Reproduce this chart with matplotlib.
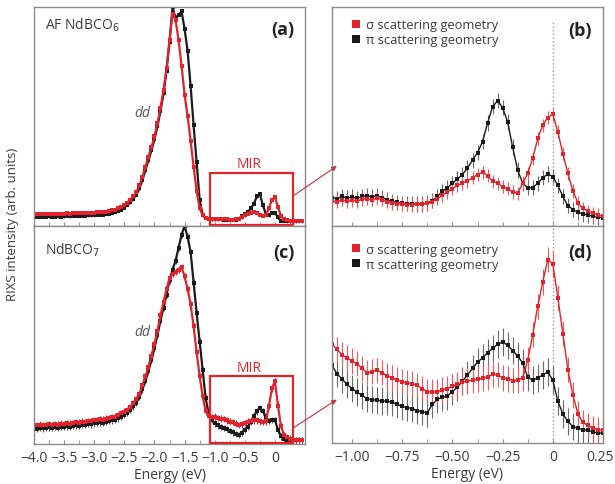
import numpy as np
import matplotlib.pyplot as plt
import matplotlib.transforms as mtransforms
from matplotlib.patches import Rectangle, ConnectionPatch
from matplotlib.lines import Line2D
from matplotlib.ticker import MultipleLocator

plt.rcParams['font.family'] = ['Open Sans', 'DejaVu Sans']

# ---- wide spectra (a), (c): energy -4.0 .. 0.45 eV, step 0.05 ----
energy_wide = np.round(np.linspace(-4.0, 0.45, 90), 3)

a_sigma = [5.6, 5.4, 5.5, 5.5, 5.4, 5.6, 5.5, 5.5, 5.6, 5.5,
           5.6, 5.7, 5.6, 5.7, 5.8, 5.7, 5.9, 5.9, 6.0, 6.0,
           6.1, 6.2, 6.3, 6.4, 6.6, 6.8, 7.1, 7.5, 8.0, 8.7,
           9.6, 10.7, 12.0, 13.6, 15.5, 18.5, 22.5, 27.0, 31.5, 36.0,
           41.0, 47.0, 54.0, 62.0, 72.0, 85.0, 97.0, 94.0, 85.0, 73.0,
           60.0, 50.0, 39.0, 27.0, 16.0, 8.0, 4.8, 3.6, 3.2, 3.1,
           3.1, 3.0, 3.1, 3.0, 3.0, 2.9, 2.9, 3.0, 3.3, 4.0,
           4.8, 5.4, 6.0, 6.6, 5.8, 5.2, 4.5, 5.2, 8.0, 12.0,
           13.2, 8.7, 4.5, 3.0, 2.6, 2.4, 2.3, 2.3, 2.3, 2.3]
a_pi = [4.4, 4.2, 4.3, 4.3, 4.2, 4.4, 4.3, 4.3, 4.4, 4.3,
        4.4, 4.5, 4.4, 4.5, 4.6, 4.5, 4.7, 4.7, 4.8, 4.8,
        4.9, 5.0, 5.1, 5.2, 5.4, 5.6, 5.9, 6.3, 6.8, 7.5,
        8.4, 9.5, 10.8, 12.4, 14.3, 17.2, 21.0, 25.5, 30.0, 34.5,
        39.5, 45.5, 52.5, 60.5, 71.0, 84.0, 100.0, 95.0, 96.5, 98.0,
        90.0, 80.0, 64.0, 46.0, 29.0, 12.0, 5.2, 3.6, 3.2, 3.1,
        3.0, 3.0, 3.0, 2.9, 2.9, 2.9, 2.8, 2.9, 3.4, 4.5,
        5.4, 6.4, 8.0, 10.1, 13.5, 14.6, 9.5, 5.4, 4.9, 6.0,
        6.1, 3.9, 2.5, 2.2, 2.1, 2.1, 2.1, 2.1, 2.1, 2.1]

c_sigma = [8.8, 8.5, 8.9, 8.6, 8.8, 9.0, 8.7, 9.1, 8.9, 9.3,
           9.2, 9.5, 9.3, 9.7, 9.9, 9.8, 10.2, 10.1, 10.5, 10.4,
           10.8, 11.0, 11.3, 11.2, 11.6, 11.9, 12.2, 12.6, 13.2, 14.0,
           14.8, 15.5, 17.0, 18.6, 20.5, 23.0, 27.0, 31.0, 35.5, 40.5,
           46.0, 52.0, 59.0, 65.0, 71.0, 76.0, 78.0, 79.0, 80.0, 81.0,
           77.0, 71.0, 64.0, 54.0, 42.0, 31.0, 22.0, 15.0, 13.0, 12.2,
           12.5, 12.0, 11.6, 11.4, 10.8, 10.3, 10.0, 9.3, 8.7, 9.0,
           9.6, 10.2, 10.5, 10.8, 10.8, 10.4, 10.0, 10.4, 17.4, 25.5,
           28.8, 17.6, 8.3, 4.1, 3.0, 2.4, 1.9, 1.8, 1.8, 1.8]
c_pi = [7.4, 7.1, 7.5, 7.2, 7.4, 7.6, 7.3, 7.7, 7.5, 7.9,
        7.8, 8.1, 7.9, 8.3, 8.5, 8.4, 8.8, 8.7, 9.1, 9.0,
        9.4, 9.6, 9.9, 9.8, 10.2, 10.5, 10.8, 11.2, 11.8, 12.6,
        13.4, 14.2, 15.6, 17.2, 19.0, 21.5, 25.0, 29.0, 33.5, 38.5,
        44.0, 50.0, 56.5, 62.5, 68.5, 75.0, 80.0, 84.0, 90.0, 96.0,
        100.0, 95.0, 88.0, 74.0, 60.0, 47.0, 34.0, 21.0, 14.0, 11.0,
        9.5, 8.5, 7.8, 7.3, 6.8, 6.0, 5.3, 4.6, 4.2, 5.2,
        6.5, 8.0, 10.2, 12.8, 15.0, 16.4, 15.0, 12.5, 10.5, 11.0,
        11.0, 6.5, 3.5, 2.5, 2.0, 1.8, 1.7, 1.7, 1.7, 1.7]

# ---- zoomed spectra (b), (d): energy -1.1 .. 0.25 eV, step 0.025 ----
energy_zoom = np.round(np.linspace(-1.1, 0.25, 55), 3)

b_sigma = [11.5, 11.0, 12.0, 11.2, 11.8, 11.3, 12.2, 12.5, 12.0, 12.8,
           12.0, 11.0, 10.5, 10.2, 10.0, 9.8, 9.8, 10.0, 10.0, 10.5,
           11.0, 12.5, 14.0, 15.5, 17.0, 18.5, 19.5, 20.5, 22.0, 23.5,
           24.5, 23.0, 20.5, 19.5, 18.0, 17.0, 15.5, 15.0, 19.5, 24.0,
           31.0, 40.0, 46.0, 49.5, 51.0, 43.0, 33.0, 24.0, 16.0, 10.5,
           8.0, 6.8, 5.8, 5.0, 4.5]
b_pi = [13.0, 12.5, 13.5, 12.8, 13.2, 12.6, 13.5, 13.8, 13.4, 13.8,
        13.0, 12.0, 11.2, 10.8, 10.4, 10.2, 10.0, 10.1, 10.0, 10.5,
        11.5, 13.5, 15.8, 17.5, 19.5, 21.5, 23.5, 26.5, 30.0, 33.5,
        38.5, 47.0, 54.5, 57.2, 54.0, 47.5, 36.0, 25.5, 19.5, 17.5,
        17.5, 19.5, 22.0, 23.7, 22.5, 18.5, 13.5, 9.3, 7.5, 6.3,
        5.5, 5.0, 4.5, 4.0, 3.8]
d_sigma = [44.0, 41.5, 39.0, 37.5, 36.0, 34.8, 32.5, 30.5, 31.0, 31.6,
           30.5, 29.0, 28.0, 27.0, 26.2, 25.8, 25.2, 24.5, 23.0, 21.5,
           21.3, 21.5, 22.3, 23.0, 24.0, 25.0, 26.0, 26.5, 27.0, 27.3,
           27.8, 28.5, 29.8, 29.5, 28.0, 27.5, 26.8, 27.0, 28.0, 36.5,
           48.5, 62.0, 73.5, 84.0, 82.0, 66.0, 49.0, 32.0, 20.0, 11.0,
           7.0, 5.5, 4.2, 3.5, 3.2]
d_pi = [34.0, 30.0, 27.5, 25.0, 23.0, 21.3, 19.8, 18.2, 17.8, 17.4,
        17.2, 17.0, 16.5, 15.5, 14.5, 14.0, 13.5, 12.6, 12.0, 11.5,
        15.5, 18.0, 18.8, 19.5, 21.5, 23.7, 26.5, 29.5, 32.5, 35.5,
        37.5, 40.0, 42.0, 44.0, 45.0, 43.5, 41.0, 38.5, 35.0, 28.5,
        27.0, 28.0, 29.5, 30.8, 27.0, 17.0, 11.0, 7.5, 5.0, 4.2,
        3.5, 3.2, 2.5, 2.0, 1.8]

# error bars (arb. units)
a_err = 0.6
c_err = 1.5
b_err_sigma, b_err_pi = 3.0, 3.5
d_err_sigma, d_err_pi = 6.0, 6.5

# MIR window marked on the wide spectra
mir_lo, mir_hi = -1.07, 0.30
mir_top_a, mir_top_c = 24.2, 31.0

RED = '#e3232b'
BLACK = '#1b1b1b'
FRAME = '#8c8c8c'
TXT = '#3a3a3a'

fig = plt.figure(figsize=(6.15, 4.85), dpi=100)
ax_a = fig.add_axes([0.0553, 0.532, 0.4407, 0.4515])
ax_c = fig.add_axes([0.0553, 0.0825, 0.4407, 0.4495])
ax_b = fig.add_axes([0.5398, 0.532, 0.4407, 0.4515])
ax_d = fig.add_axes([0.5398, 0.0845, 0.4407, 0.4475])


def draw(ax, x, y, err, color, ecolor, ms, lw, label=None):
    ax.errorbar(x, y, yerr=err, fmt='s-', color=color, ms=ms, lw=lw,
                ecolor=ecolor, elinewidth=0.8, capsize=0, mew=0, label=label)


for ax in (ax_a, ax_c, ax_b, ax_d):
    for s in ax.spines.values():
        s.set_color(FRAME)
        s.set_linewidth(1.0)
    ax.set_ylim(0, 100)
    ax.set_yticks([])
    ax.tick_params(axis='x', direction='in', length=3, color=FRAME,
                   labelsize=10, labelcolor=TXT, pad=4)
    ax.tick_params(axis='x', which='minor', direction='in', length=3, color=FRAME)
ax_d.set_ylim(-2.8, 100)

# wide panels
draw(ax_a, energy_wide, a_pi, a_err, BLACK, '#555555', 3.2, 1.6)
draw(ax_a, energy_wide, a_sigma, a_err, RED, RED, 3.2, 1.6)
draw(ax_c, energy_wide, c_pi, c_err, BLACK, '#555555', 3.2, 1.6)
draw(ax_c, energy_wide, c_sigma, c_err, RED, RED, 3.2, 1.6)

for ax in (ax_a, ax_c):
    ax.set_xlim(-4.0, 0.5)
    ax.xaxis.set_major_locator(MultipleLocator(0.5))
    ax.xaxis.set_minor_locator(MultipleLocator(0.25))
ax_a.set_xticklabels([])
ax_c.set_xticks(np.arange(-4.0, 0.01, 0.5))
ax_c.set_xticklabels(['\u22124.0', '\u22123.5', '\u22123.0', '\u22122.5', '\u22122.0',
                      '\u22121.5', '\u22121.0', '\u22120.5', '0'])
ax_c.set_xlabel('Energy (eV)', fontsize=10, color=TXT, labelpad=2)

ax_a.add_patch(Rectangle((mir_lo, 0.3), mir_hi - mir_lo, mir_top_a - 0.3,
                         fill=False, ec=RED, lw=1.6, zorder=5))
ax_c.add_patch(Rectangle((mir_lo, 0.3), mir_hi - mir_lo, mir_top_c - 0.3,
                         fill=False, ec=RED, lw=1.6, zorder=5))
ax_a.text((mir_lo + mir_hi) / 2 - 0.05, mir_top_a + 0.8, 'MIR', color=RED,
          ha='center', va='bottom', fontsize=10)
ax_c.text((mir_lo + mir_hi) / 2 - 0.05, mir_top_c + 0.8, 'MIR', color=RED,
          ha='center', va='bottom', fontsize=10)

ax_a.text(0.04, 0.92, 'AF NdBCO$_6$', transform=ax_a.transAxes, fontsize=10,
          color=TXT, va='center')
ax_c.text(0.04, 0.895, 'NdBCO$_7$', transform=ax_c.transAxes, fontsize=10,
          color=TXT, va='center')
ax_a.text(-2.2, 50, 'dd', style='italic', fontsize=10, color='#555555', ha='center')
ax_c.text(-2.2, 50, 'dd', style='italic', fontsize=10, color='#555555', ha='center')
ax_a.text(0.96, 0.90, '(a)', transform=ax_a.transAxes, fontsize=13,
          fontweight='bold', color='#222222', ha='right', va='center')
ax_c.text(0.96, 0.88, '(c)', transform=ax_c.transAxes, fontsize=13,
          fontweight='bold', color='#222222', ha='right', va='center')

# zoom panels
draw(ax_b, energy_zoom, b_pi, b_err_pi, BLACK, '#6a6a6a', 3.2, 1.0,
     label='\u03c0 scattering geometry')
draw(ax_b, energy_zoom, b_sigma, b_err_sigma, RED, '#ee5a5f', 3.2, 1.0,
     label='\u03c3 scattering geometry')
draw(ax_d, energy_zoom, d_pi, d_err_pi, BLACK, '#6a6a6a', 3.2, 1.0,
     label='\u03c0 scattering geometry')
draw(ax_d, energy_zoom, d_sigma, d_err_sigma, RED, '#ee5a5f', 3.2, 1.0,
     label='\u03c3 scattering geometry')

for ax, top in ((ax_b, 0.99), (ax_d, 0.965)):
    ax.set_xlim(-1.1, 0.25)
    ax.xaxis.set_major_locator(MultipleLocator(0.25))
    ax.xaxis.set_minor_locator(MultipleLocator(0.125))
    h, l = ax.get_legend_handles_labels()
    handles = [Line2D([], [], marker='s', ls='none', color=RED, ms=6, mew=0),
               Line2D([], [], marker='s', ls='none', color=BLACK, ms=6, mew=0)]
    ax.legend(handles, [l[1], l[0]], loc='upper left', bbox_to_anchor=(0.04, top),
              frameon=False, fontsize=9.3, handlelength=0.7, handletextpad=0.4,
              labelspacing=0.15, borderaxespad=0.3, labelcolor=TXT)
ax_b.axvline(0, ymax=0.93, color='#9a9a9a', ls=':', lw=1.0, zorder=0)
ax_d.axvline(0, color='#9a9a9a', ls=':', lw=1.0, zorder=0)
ax_b.set_xticklabels([])
ax_d.set_xticks([-1.0, -0.75, -0.5, -0.25, 0, 0.25])
ax_d.set_xticklabels(['\u22121.00', '\u22120.75', '\u22120.50', '\u22120.25', '0', '0.25'])
last = ax_d.get_xticklabels()[-1]
last.set_transform(last.get_transform() +
                   mtransforms.ScaledTranslation(-3 / 100, 0, fig.dpi_scale_trans))
ax_d.set_xlabel('Energy (eV)', fontsize=10, color=TXT, labelpad=2)
ax_b.text(0.96, 0.895, '(b)', transform=ax_b.transAxes, fontsize=13,
          fontweight='bold', color='#222222', ha='right', va='center')
ax_d.text(0.96, 0.88, '(d)', transform=ax_d.transAxes, fontsize=13,
          fontweight='bold', color='#222222', ha='right', va='center')

# arrows from MIR boxes to zoom panels
for src, dst, ys, yd in ((ax_a, ax_b, 13.7, 0.274), (ax_c, ax_d, 7.3, 0.20)):
    con = ConnectionPatch(xyA=(mir_hi, ys), coordsA=src.transData,
                          xyB=(0.018, yd), coordsB=dst.transAxes,
                          arrowstyle='-|>', mutation_scale=7, color='#c8323a', lw=0.8)
    fig.add_artist(con)

fig.text(0.02, 0.538, 'RIXS intensity (arb. units)', rotation=90, fontsize=9.5,
         color=TXT, ha='center', va='center')

fig.savefig('out.png', dpi=100)
